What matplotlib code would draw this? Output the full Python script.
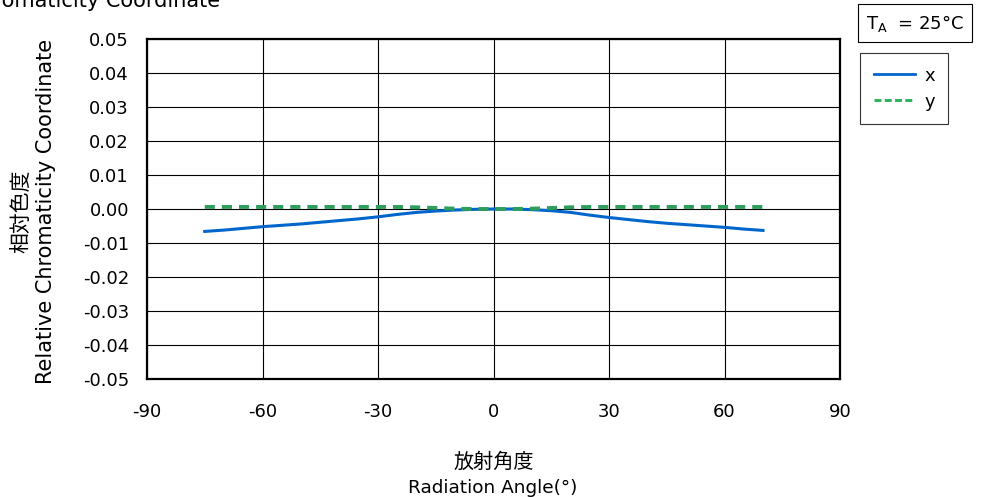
import matplotlib
matplotlib.use("Agg")
import matplotlib.pyplot as plt
from matplotlib.lines import Line2D

plt.rcParams['font.family'] = ['DejaVu Sans', 'Noto Sans CJK JP']
plt.rcParams['axes.unicode_minus'] = False

angles = [-75, -70, -65, -60, -55, -50, -45, -40, -35, -30, -25, -20, -15, -10, -5,
          0, 5, 10, 15, 20, 25, 30, 35, 40, 45, 50, 55, 60, 65, 70]
x_coord = [-0.0066, -0.0062, -0.0057, -0.0052, -0.0048, -0.0044, -0.0039, -0.0034,
           -0.0029, -0.0023, -0.0016, -0.0010, -0.0006, -0.0003, -0.0001,
           0.0, 0.0, -0.0002, -0.0005, -0.0010, -0.0018, -0.0025, -0.0031, -0.0037,
           -0.0042, -0.0046, -0.0050, -0.0054, -0.0059, -0.0063]
y_coord = [0.0006, 0.0006, 0.0006, 0.0006, 0.0006, 0.0006, 0.0006, 0.0006,
           0.0006, 0.0006, 0.0006, 0.0005, 0.0003, 0.0001, 0.0,
           0.0, 0.0, 0.0001, 0.0003, 0.0005, 0.0006, 0.0006, 0.0006, 0.0006,
           0.0006, 0.0006, 0.0006, 0.0006, 0.0006, 0.0006]

xticks = [-90, -60, -30, 0, 30, 60, 90]
yticks = [0.05, 0.04, 0.03, 0.02, 0.01, 0.00, -0.01, -0.02, -0.03, -0.04, -0.05]

FS = 13
W, H = 999, 497

fig = plt.figure(figsize=(9.99, 4.97), dpi=100)
ax = fig.add_axes([147 / W, 118 / H, 693 / W, 340 / H])

ax.plot(angles, x_coord, color='#0066cc', lw=2.2, label='x', zorder=3)
ax.plot(angles, y_coord, color='#2e9e5b', lw=2.8, ls=(0, (2.6, 1.8)), label='y', zorder=4)

ax.set_xlim(-90, 90)
ax.set_ylim(-0.05, 0.05)
ax.set_xticks(xticks)
ax.set_yticks(yticks)
ax.set_yticklabels(['%.2f' % v if v >= 0 else '-%.2f' % abs(v) for v in yticks])
ax.tick_params(length=0, labelsize=FS)
ax.tick_params(axis='x', pad=17)
ax.tick_params(axis='y', pad=13)
ax.grid(True, color='black', lw=0.8)
for s in ax.spines.values():
    s.set_linewidth(1.6)

# axis titles (two lines each: Japanese + English)
fig.text(494 / W, 1 - 462 / H, '放射角度', ha='center', va='center', fontsize=14.5)
fig.text(493 / W, 4 / H, 'Radiation Angle(°)', ha='center', va='baseline', fontsize=13.3)
fig.text(21 / W, 1 - 211 / H, '相対色度', ha='center', va='center', fontsize=15,
         rotation=90)
fig.text(46 / W, 1 - 211 / H, 'Relative Chromaticity Coordinate', ha='center',
         va='center', fontsize=15, rotation=90)

# clipped title at top-left
fig.text(220 / W, 1 - 7 / H, 'Relative Chromaticity Coordinate', ha='right',
         va='baseline', fontsize=15)

fig.text(915 / W, 1 - 23 / H, r'T$_\mathregular{A}$  = 25°C', ha='center', va='center',
         fontsize=FS,
         bbox=dict(boxstyle='square,pad=0.45', fc='white', ec='black', lw=0.8))

handles = [Line2D([], [], color='#0066cc', lw=2.0),
           Line2D([], [], color='#22b050', lw=2.0, ls=(0, (2.5, 1.2)))]
leg = fig.legend(handles, ['x', 'y'], loc='upper left',
                 bbox_to_anchor=(860 / W, 1 - 53 / H), fontsize=FS,
                 frameon=True, fancybox=False, edgecolor='black', handlelength=2.3,
                 handletextpad=0.5, borderpad=0.75, labelspacing=0.45, borderaxespad=0)
leg.get_frame().set_linewidth(0.8)

fig.savefig('out.png', dpi=100)
